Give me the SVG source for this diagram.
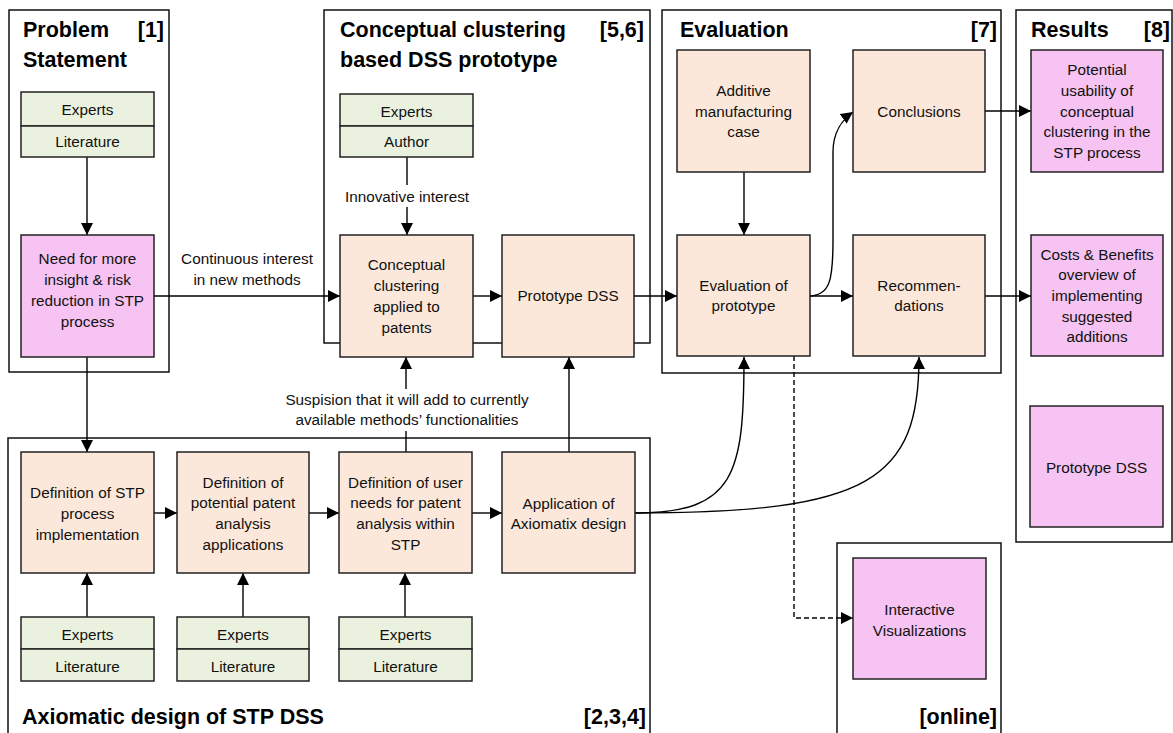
<svg xmlns="http://www.w3.org/2000/svg" width="1173" height="733" viewBox="0 0 1173 733">
<defs>
<style>
.cont{fill:none;stroke:#111;stroke-width:1.5}
.pe{fill:#FCE8DA;stroke:#222;stroke-width:1.5}
.pk{fill:#F6C3F2;stroke:#222;stroke-width:1.5}
.gr{fill:#EAF1DF;stroke:#222;stroke-width:1.5}
.t{font-family:"Liberation Sans",Arial,sans-serif;font-size:15.3px;fill:#111;text-anchor:middle}
.h{font-family:"Liberation Sans",Arial,sans-serif;font-size:21.5px;font-weight:bold;fill:#000}
.c{fill:none;stroke:#000;stroke-width:1.4}
.d{stroke-dasharray:5,3}
</style>
<marker id="ah" markerWidth="13" markerHeight="13" refX="12" refY="6" orient="auto" markerUnits="userSpaceOnUse">
<path d="M0,0 L12,6 L0,12 Z" fill="#000"/>
</marker>
</defs>
<rect width="1173" height="733" fill="#fff"/>

<g id="containers">
<g id="problem-statement">
<rect class="cont" x="9" y="10" width="160" height="362"/>
<text class="h" x="23" y="37">Problem</text>
<text class="h" x="164" y="37" text-anchor="end">[1]</text>
<text class="h" x="23" y="67">Statement</text>
</g>
<g id="conceptual-container">
<rect class="cont" x="324" y="10" width="326" height="333"/>
<text class="h" x="340" y="37">Conceptual clustering</text>
<text class="h" x="644" y="37" text-anchor="end">[5,6]</text>
<text class="h" x="340" y="67">based DSS prototype</text>
</g>
<g id="evaluation-container">
<rect class="cont" x="662" y="10" width="339" height="363"/>
<text class="h" x="680" y="37">Evaluation</text>
<text class="h" x="997" y="37" text-anchor="end">[7]</text>
</g>
<g id="results-container">
<rect class="cont" x="1016" y="10" width="156" height="532"/>
<text class="h" x="1031" y="37">Results</text>
<text class="h" x="1170" y="37" text-anchor="end">[8]</text>
</g>
<g id="axiomatic-container">
<rect class="cont" x="8" y="438" width="642" height="310"/>
<text class="h" x="22" y="724">Axiomatic design of STP DSS</text>
<text class="h" x="646" y="724" text-anchor="end">[2,3,4]</text>
</g>
<g id="online-container">
<rect class="cont" x="837" y="543" width="164" height="205"/>
<text class="h" x="997" y="724" text-anchor="end">[online]</text>
</g>
</g>

<g id="connectors">
<path class="c" d="M87,157 V235" marker-end="url(#ah)"/>
<path class="c" d="M154,296 H340" marker-end="url(#ah)"/>
<text class="t" x="247" y="264">Continuous interest</text>
<text class="t" x="247" y="285">in new methods</text>
<path class="c" d="M407,157 V185"/>
<text class="t" x="407" y="202">Innovative interest</text>
<path class="c" d="M407,207 V235" marker-end="url(#ah)"/>
<path class="c" d="M473,296 H502" marker-end="url(#ah)"/>
<path class="c" d="M634,296 H677" marker-end="url(#ah)"/>
<path class="c" d="M744,172 V235" marker-end="url(#ah)"/>
<path class="c" d="M810,296 H853" marker-end="url(#ah)"/>
<path class="c" d="M810,296 C830,295 833,280 833,240 L833,152 C833,132 843,119 853,112" marker-end="url(#ah)"/>
<path class="c" d="M985,111 H1031" marker-end="url(#ah)"/>
<path class="c" d="M985,296 H1031" marker-end="url(#ah)"/>
<path class="c" d="M87,357 V452" marker-end="url(#ah)"/>
<path class="c" d="M154,513 H177" marker-end="url(#ah)"/>
<path class="c" d="M309,513 H339" marker-end="url(#ah)"/>
<path class="c" d="M472,513 H502" marker-end="url(#ah)"/>
<path class="c" d="M87,617 V573" marker-end="url(#ah)"/>
<path class="c" d="M243,617 V573" marker-end="url(#ah)"/>
<path class="c" d="M405,617 V573" marker-end="url(#ah)"/>
<path class="c" d="M406,452 V431"/>
<text class="t" x="407" y="405">Suspision that it will add to currently</text>
<text class="t" x="407" y="425">available methods’ functionalities</text>
<path class="c" d="M406,389 V357" marker-end="url(#ah)"/>
<path class="c" d="M569,452 V357" marker-end="url(#ah)"/>
<path class="c" d="M635,513 C735,513 744,475 744,357" marker-end="url(#ah)"/>
<path class="c" d="M635,513 C870,513 919,480 919,357" marker-end="url(#ah)"/>
<path class="c d" d="M794,356 V618 H853" marker-end="url(#ah)"/>
</g>

<g id="n-sources1">
<rect class="gr" x="21" y="92" width="133" height="34"/>
<rect class="gr" x="21" y="126" width="133" height="31"/>
<text class="t" x="87.5" y="115">Experts</text>
<text class="t" x="87.5" y="147">Literature</text>
</g>
<g id="n-need">
<rect class="pk" x="21" y="235" width="133" height="122"/>
<text class="t" x="87.5" y="264">Need for more</text>
<text class="t" x="87.5" y="285">insight &amp; risk</text>
<text class="t" x="87.5" y="306">reduction in STP</text>
<text class="t" x="87.5" y="327">process</text>
</g>
<g id="n-sources2">
<rect class="gr" x="340" y="94" width="133" height="32"/>
<rect class="gr" x="340" y="126" width="133" height="31"/>
<text class="t" x="406.5" y="117">Experts</text>
<text class="t" x="406.5" y="147">Author</text>
</g>
<g id="n-cc">
<rect class="pe" x="340" y="235" width="133" height="122"/>
<text class="t" x="406.5" y="270">Conceptual</text>
<text class="t" x="406.5" y="291">clustering</text>
<text class="t" x="406.5" y="312">applied to</text>
<text class="t" x="406.5" y="333">patents</text>
</g>
<g id="n-pdss">
<rect class="pe" x="502" y="235" width="132" height="122"/>
<text class="t" x="568" y="301">Prototype DSS</text>
</g>
<g id="n-amc">
<rect class="pe" x="677" y="50" width="133" height="122"/>
<text class="t" x="743.5" y="96">Additive</text>
<text class="t" x="743.5" y="117">manufacturing</text>
<text class="t" x="743.5" y="137">case</text>
</g>
<g id="n-eop">
<rect class="pe" x="677" y="235" width="133" height="121"/>
<text class="t" x="743.5" y="291">Evaluation of</text>
<text class="t" x="743.5" y="311">prototype</text>
</g>
<g id="n-concl">
<rect class="pe" x="853" y="50" width="132" height="122"/>
<text class="t" x="919" y="117">Conclusions</text>
</g>
<g id="n-rec">
<rect class="pe" x="853" y="235" width="132" height="121"/>
<text class="t" x="919" y="291">Recommen-</text>
<text class="t" x="919" y="311">dations</text>
</g>
<g id="n-pu">
<rect class="pk" x="1031" y="50" width="132" height="122"/>
<text class="t" x="1097" y="75">Potential</text>
<text class="t" x="1097" y="96">usability of</text>
<text class="t" x="1097" y="117">conceptual</text>
<text class="t" x="1097" y="137">clustering in the</text>
<text class="t" x="1097" y="158">STP process</text>
</g>
<g id="n-cb">
<rect class="pk" x="1031" y="235" width="132" height="121"/>
<text class="t" x="1097" y="260">Costs &amp; Benefits</text>
<text class="t" x="1097" y="280">overview of</text>
<text class="t" x="1097" y="301">implementing</text>
<text class="t" x="1097" y="322">suggested</text>
<text class="t" x="1097" y="342">additions</text>
</g>
<g id="n-pdss2">
<rect class="pk" x="1030" y="406" width="133" height="121"/>
<text class="t" x="1096.5" y="473">Prototype DSS</text>
</g>
<g id="n-d1">
<rect class="pe" x="21" y="452" width="133" height="121"/>
<text class="t" x="87.5" y="498">Definition of STP</text>
<text class="t" x="87.5" y="519">process</text>
<text class="t" x="87.5" y="540">implementation</text>
</g>
<g id="n-d2">
<rect class="pe" x="177" y="452" width="132" height="121"/>
<text class="t" x="243" y="488">Definition of</text>
<text class="t" x="243" y="508">potential patent</text>
<text class="t" x="243" y="529">analysis</text>
<text class="t" x="243" y="550">applications</text>
</g>
<g id="n-d3">
<rect class="pe" x="339" y="452" width="133" height="121"/>
<text class="t" x="405.5" y="488">Definition of user</text>
<text class="t" x="405.5" y="508">needs for patent</text>
<text class="t" x="405.5" y="529">analysis within</text>
<text class="t" x="405.5" y="550">STP</text>
</g>
<g id="n-app">
<rect class="pe" x="502" y="452" width="133" height="121"/>
<text class="t" x="568.5" y="509">Application of</text>
<text class="t" x="568.5" y="529">Axiomatix design</text>
</g>
<g id="n-src3">
<rect class="gr" x="21" y="617" width="133" height="32"/>
<rect class="gr" x="21" y="649" width="133" height="32"/>
<text class="t" x="87.5" y="640">Experts</text>
<text class="t" x="87.5" y="672">Literature</text>
</g>
<g id="n-src4">
<rect class="gr" x="177" y="617" width="132" height="32"/>
<rect class="gr" x="177" y="649" width="132" height="32"/>
<text class="t" x="243" y="640">Experts</text>
<text class="t" x="243" y="672">Literature</text>
</g>
<g id="n-src5">
<rect class="gr" x="339" y="617" width="133" height="32"/>
<rect class="gr" x="339" y="649" width="133" height="32"/>
<text class="t" x="405.5" y="640">Experts</text>
<text class="t" x="405.5" y="672">Literature</text>
</g>
<g id="n-iv">
<rect class="pk" x="853" y="558" width="133" height="121"/>
<text class="t" x="919.5" y="615">Interactive</text>
<text class="t" x="919.5" y="636">Visualizations</text>
</g>
</svg>
